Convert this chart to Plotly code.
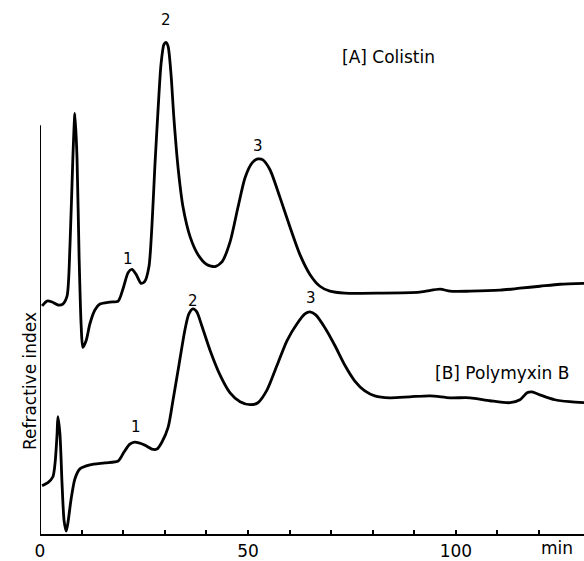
import plotly.graph_objects as go

# Retention time (min) and detector signal (arbitrary units) for each trace
time_colistin = [0.5, 1.7, 2.9, 4.3, 5.5, 6.5, 7.2, 7.9, 8.4, 8.9, 9.4, 9.9, 10.3, 11.1,
                 12.0, 13.2, 14.4, 16.8, 18.8, 20.0, 21.2, 22.1, 23.1, 24.3, 25.2, 26.2,
                 26.9, 27.6, 28.4, 29.1, 29.8, 30.3, 30.8, 31.5, 32.2, 33.2, 34.4, 36.1,
                 38.0, 40.1, 42.1, 43.8, 45.7, 47.6, 49.3, 51.0, 52.4, 53.6, 55.3, 57.7,
                 60.1, 62.5, 64.9, 67.3, 69.7, 73.3, 81.7, 91.3, 96.2, 98.6, 103.4, 110.6,
                 115.4, 120.2, 125.0, 130.8]
signal_colistin = [231, 236, 235, 232, 233, 241, 291, 381, 426, 381, 281, 211, 189, 196,
                   213, 227, 233, 235, 236, 249, 265, 268, 263, 254, 256, 271,
                   311, 371, 431, 476, 496, 498, 494, 466, 421, 371, 331, 301,
                   283, 273, 271, 276, 296, 331, 361, 376, 380, 379, 369, 341,
                   311, 283, 263, 251, 246, 244, 244, 245, 248, 246, 246, 247,
                   249, 251, 253, 254]

time_polymyxin = [0.5, 1.9, 3.1, 3.6, 4.1, 4.3, 4.8, 5.3, 5.8, 6.3, 6.7, 7.5, 8.4, 9.6,
                  12.0, 15.6, 18.8, 20.2, 21.6, 22.8, 25.2, 26.9, 28.1, 29.3, 30.8, 32.0,
                  33.4, 34.9, 35.8, 36.8, 37.7, 38.9, 40.9, 43.3, 45.7, 48.1, 50.5, 52.4,
                  54.6, 57.0, 59.4, 61.8, 63.7, 64.9, 66.3, 68.5, 70.9, 73.3, 75.7, 78.1,
                  80.5, 84.1, 88.9, 93.8, 98.6, 103.4, 108.2, 113.0, 115.4, 117.1, 118.3,
                  120.2, 123.8, 127.4, 130.8]
signal_polymyxin = [49, 52, 58, 71, 101, 119, 101, 51, 13, 3, 11, 36, 56, 66,
                    70, 72, 74, 83, 91, 93, 90, 86, 86, 93, 108, 136,
                    171, 208, 223, 228, 225, 211, 186, 161, 143, 134, 131, 133,
                    146, 171, 196, 213, 223, 225, 222, 209, 191, 171, 155, 145,
                    140, 138, 139, 140, 138, 138, 135, 133, 136, 143, 144,
                    141, 136, 134, 133]

# Peak numbers: (label, time, signal at label centre)
peaks_colistin = [("1", 21.2, 279), ("2", 30.3, 521), ("3", 52.4, 393)]
peaks_polymyxin = [("1", 23.1, 108), ("2", 36.8, 236), ("3", 65.1, 239)]

x_tick_values = list(range(0, 130, 10))
x_tick_labels = ["0", "", "", "", "", "50", "", "", "", "", "100", "", ""]

X_MAX = 130.8
Y_MAX = 541
Y_AXIS_TOP = 414

FONT = "DejaVu Sans"

fig = go.Figure()
for t, s in [(time_colistin, signal_colistin), (time_polymyxin, signal_polymyxin)]:
    fig.add_trace(go.Scatter(
        x=t, y=s, mode="lines",
        line=dict(color="black", width=2.8, shape="spline", smoothing=0.7),
        showlegend=False, hoverinfo="skip",
    ))

# Vertical signal axis (shorter than the plot area)
fig.add_shape(type="line", x0=0, x1=0, y0=0, y1=Y_AXIS_TOP,
              xref="x", yref="y", line=dict(color="black", width=2))

for label, t, s in peaks_colistin + peaks_polymyxin:
    fig.add_annotation(x=t, y=s, text=label, showarrow=False,
                       font=dict(family=FONT, size=15, color="black"))

fig.add_annotation(x=83.9, y=483, text="[A] Colistin", showarrow=False,
                   font=dict(family=FONT, size=17, color="black"))
fig.add_annotation(x=111.1, y=163, text="[B] Polymyxin B", showarrow=False,
                   font=dict(family=FONT, size=17, color="black"))
fig.add_annotation(x=124.4, y=0, yref="y", text="min", showarrow=False,
                   yanchor="top", yshift=-2,
                   font=dict(family=FONT, size=17, color="black"))
fig.add_annotation(x=-0.0404, xref="paper", y=155, text="Refractive index",
                   textangle=-90, showarrow=False,
                   font=dict(family=FONT, size=17, color="black"))

fig.update_xaxes(range=[0, X_MAX], tickvals=x_tick_values, ticktext=x_tick_labels,
                 ticks="inside", ticklen=4, tickwidth=1.5, tickcolor="black",
                 ticklabelstandoff=1,
                 showline=True, linecolor="black", linewidth=2,
                 showgrid=False, zeroline=False,
                 tickfont=dict(family=FONT, size=17, color="black"))
fig.update_yaxes(range=[0, Y_MAX], visible=False)

fig.update_layout(
    width=584, height=561,
    margin=dict(l=40, r=0, t=0, b=20),
    plot_bgcolor="white", paper_bgcolor="white",
)

fig.write_html("out.html")
